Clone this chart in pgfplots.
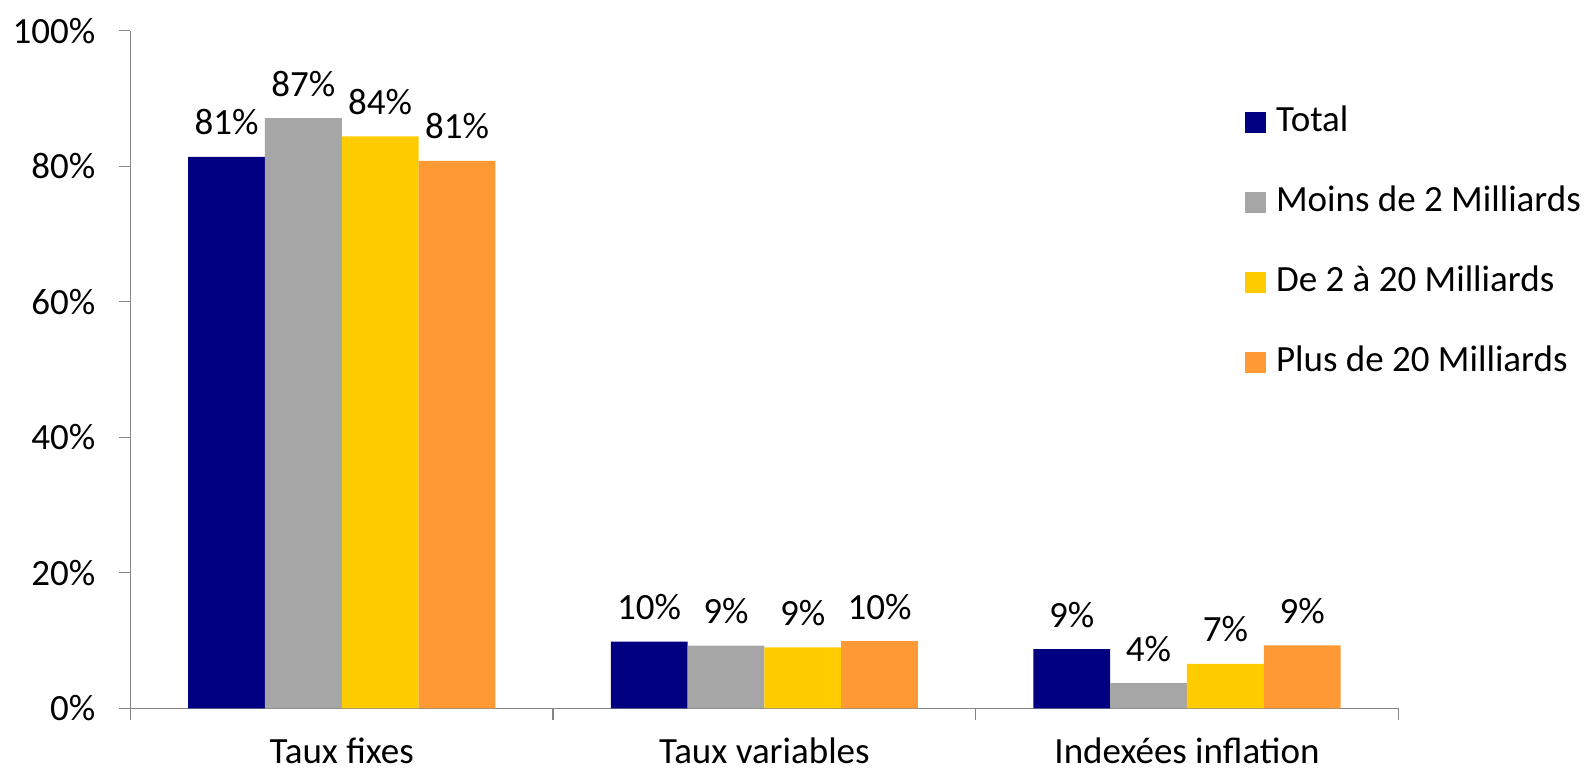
\documentclass[border=0pt]{standalone}
\usepackage{fontspec}
\setmainfont{Carlito}
\usepackage{pgfplots}
\pgfplotsset{compat=1.18}

\definecolor{cTotal}{HTML}{000080}
\definecolor{cMoins}{HTML}{A6A6A6}
\definecolor{cDe}{HTML}{FFCC00}
\definecolor{cPlus}{HTML}{FF9933}
\definecolor{axisgray}{HTML}{868686}

\pgfplotsset{
  sq legend/.style={
    legend image code/.code={
      \fill[##1] (0pt,-1.7pt) rectangle (21pt,19.3pt);
      \path (31pt,0pt);
    }
  },
  % one bar of the group of four, with its value label centred on it
  grp bar/.style={
    ybar, bar width=76.8pt, bar shift=#1, draw=none, sq legend,
    every node near coord/.append style={xshift=#1},
  },
}

\begin{document}
\fontsize{37}{44}\selectfont
\begin{tikzpicture}
\useasboundingbox (-130.5pt,-62.7pt) rectangle (1454.5pt,708.3pt);
\begin{axis}[
  at={(0pt,0pt)}, anchor=south west,
  scale only axis, width=1267.8pt, height=677.5pt,
  xmin=-0.5, xmax=2.5, ymin=0, ymax=100,
  axis x line*=bottom, axis y line*=left,
  axis line style={draw=axisgray, line width=1.2pt, -},
  ytick={0,20,40,60,80,100},
  yticklabels={0\%,20\%,40\%,60\%,80\%,100\%},
  xtick={0,1,2},
  xticklabels={Taux fixes, Taux variables, Indexées inflation},
  minor xtick={-0.5,0.5,1.5,2.5},
  tick align=outside,
  major tick length=11pt, minor tick length=12pt,
  tick style={draw=axisgray, line width=1.2pt},
  major x tick style={draw=none},
  xticklabel style={anchor=base, inner sep=0pt, text depth=0pt, yshift=-44pt},
  yticklabel style={anchor=east, inner sep=0pt, xshift=-24pt},
  /pgf/number format/assume math mode=true,
  nodes near coords={\pgfmathprintnumber[fixed,precision=0]{\pgfplotspointmeta}\%},
  every node near coord/.append style={anchor=base, inner sep=0pt, yshift=22pt, black},
  legend style={
    at={(0.8791,0.890)}, anchor=north west,
    draw=none, fill=none, inner sep=0pt, outer sep=0pt,
    row sep=46pt,
    nodes={inner sep=0pt, text height=26pt, text depth=8pt, anchor=base west},
  },
  legend cell align=left,
  clip=false,
]
\addplot[grp bar=-115.2pt, fill=cTotal]
  coordinates {(0,81.4) (1,9.83) (2,8.75)};
\addplot[grp bar=-38.4pt, fill=cMoins]
  coordinates {(0,87.1) (1,9.24) (2,3.73)};
\addplot[grp bar=38.4pt, fill=cDe]
  coordinates {(0,84.4) (1,9.0) (2,6.54)};
\addplot[grp bar=115.2pt, fill=cPlus]
  coordinates {(0,80.8) (1,9.93) (2,9.3)};
\legend{Total, Moins de 2 Milliards, De 2 à 20 Milliards, Plus de 20 Milliards}
\end{axis}
\end{tikzpicture}
\end{document}
